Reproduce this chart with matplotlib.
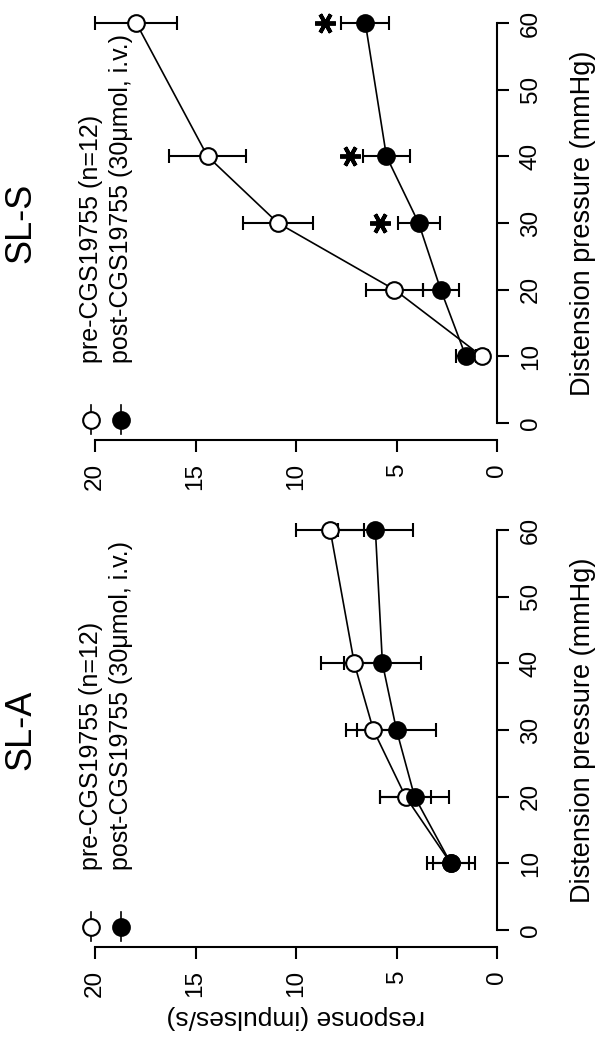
import matplotlib.pyplot as plt
from matplotlib.transforms import blended_transform_factory

plt.rcParams['font.family'] = ['Liberation Sans', 'DejaVu Sans']

# distension steps (mmHg)
pressure = [10, 20, 30, 40, 60]

# SL-S afferents
sls_pre = [0.75, 5.1, 10.9, 14.4, 17.95]
sls_pre_err = [0.3, 1.4, 1.75, 1.9, 2.05]
sls_post = [1.55, 2.8, 3.9, 5.5, 6.55]
sls_post_err = [0.5, 0.9, 1.05, 1.15, 1.2]
sls_star_p = [30, 40, 60]
sls_star_r = [5.8, 7.3, 8.55]

# SL-A afferents
sla_pre = [2.3, 4.55, 6.15, 7.1, 8.3]
sla_pre_err = [1.2, 1.25, 1.35, 1.65, 1.7]
sla_post = [2.3, 4.1, 5.0, 5.7, 6.05]
sla_post_err = [0.9, 1.7, 1.95, 1.9, 1.85]

pre_label = "pre-CGS19755 (n=12)"
post_label = "post-CGS19755 (30\u03bcmol, i.v.)"
resp_ticks = [0, 5, 10, 15, 20]
press_ticks = [0, 10, 20, 30, 40, 50, 60]

W, H = 606, 1048
fig = plt.figure(figsize=(W / 100, H / 100), dpi=100)


def panel(top_px, title, pre, pre_err, post, post_err, star_p=None, star_r=None, ylabel=False):
    # the figure is drawn turned 90 degrees: response runs right-to-left, pressure upward
    ax = fig.add_axes([95 / W, (H - top_px - 417) / H, 402 / W, 417 / H])
    ax.set_xlim(20, 0)
    ax.set_ylim(-2.55, 60)
    for s in ['top', 'left']:
        ax.spines[s].set_visible(False)
    for s in ['bottom', 'right']:
        ax.spines[s].set_linewidth(1.5)
    ax.spines['bottom'].set_bounds(0, 20)
    ax.spines['right'].set_bounds(0, 60)
    ax.yaxis.tick_right()
    ax.set_xticks(resp_ticks)
    ax.set_yticks(press_ticks)
    ax.tick_params(direction='out', length=8.5, width=1.5, labelsize=17.5, pad=8,
                   labelrotation=90)
    for lab in ax.get_yticklabels():
        lab.set_va('center')

    kw = dict(color='black', lw=1.2, ms=12, mew=1.5, capsize=4.7, elinewidth=1.5,
              capthick=1.5, clip_on=False)
    ax.errorbar(pre, pressure, xerr=pre_err, fmt='o-', mfc='white', mec='black', **kw)
    ax.errorbar(post, pressure, xerr=post_err, fmt='o-', mfc='black', mec='black', **kw)

    if star_p is not None:
        ax.plot(star_r, star_p, ls='none', marker=(6, 2, 90), ms=15, mew=2.8,
                color='black', clip_on=False)

    # legend, drawn by hand so it can turn with the rest
    for r, fc, txt in [(20.2, 'white', pre_label), (18.7, 'black', post_label)]:
        ax.plot([r, r], [0.5 - 2.2, 0.5 + 2.2], color='black', lw=1.2, clip_on=False)
        ax.plot([r], [0.5], 'o', ms=12, mfc=fc, mec='black', mew=1.5, clip_on=False)
        ax.text(r, 9, txt, rotation=90, ha='center', va='bottom', fontsize=18)

    tr = blended_transform_factory(fig.transFigure, ax.transData)
    ax.text(21 / W, 30, title, transform=tr, rotation=90, ha='center', va='center',
            fontsize=26)
    ax.text(583 / W, 30, "Distension pressure (mmHg)", transform=tr, rotation=90,
            ha='center', va='center', fontsize=19.5)
    if ylabel:
        tr2 = blended_transform_factory(ax.transData, fig.transFigure)
        ax.text(10, (H - 1017) / H, "response (impulses/s)", transform=tr2, rotation=180,
                ha='center', va='center', fontsize=19)
    return ax


panel(23, "SL-S", sls_pre, sls_pre_err, sls_post, sls_post_err, sls_star_p, sls_star_r)
panel(530, "SL-A", sla_pre, sla_pre_err, sla_post, sla_post_err, ylabel=True)

fig.savefig('out.png', dpi=100, facecolor='white')
